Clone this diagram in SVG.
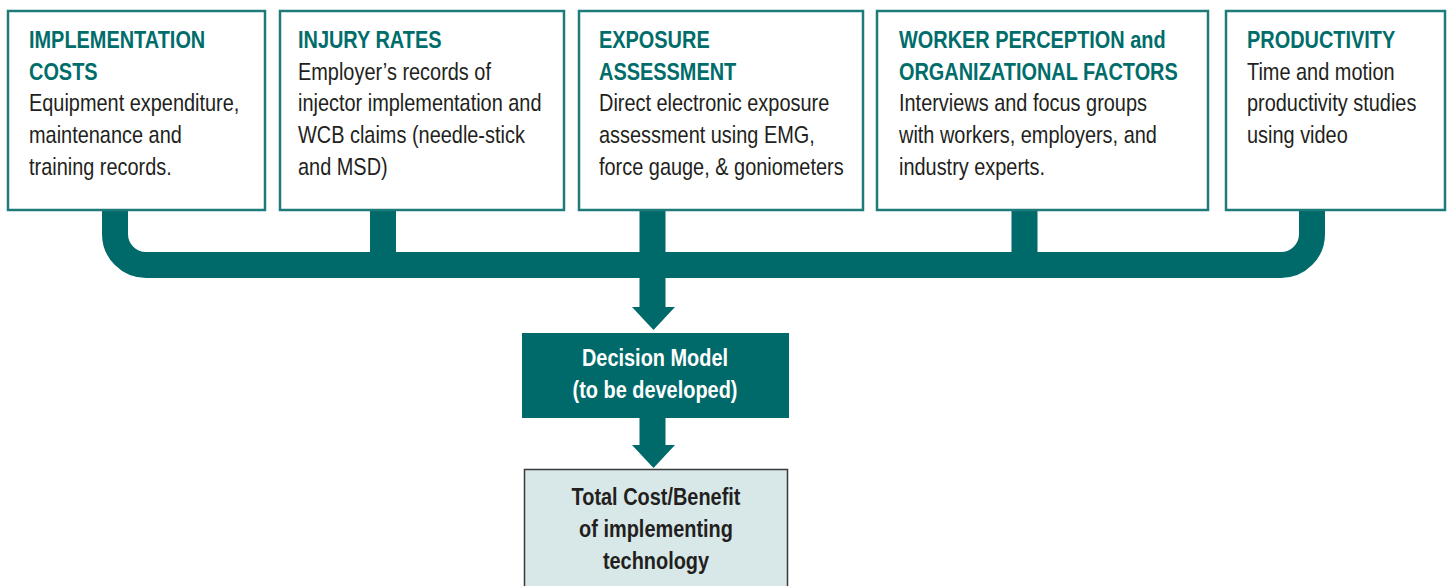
<svg xmlns="http://www.w3.org/2000/svg" width="1449" height="586" viewBox="0 0 1449 586">
  <style>
    .box { fill: #ffffff; stroke: #1f7b79; stroke-width: 2.5; }
    text { font-family: "Liberation Sans", Arial, sans-serif; font-size: 24px; }
    .title { font-weight: bold; fill: #006d6b; }
    .body { fill: #231f20; }
    .wire { fill: none; stroke: #006a6a; stroke-width: 26; stroke-linecap: butt; }
    .head { fill: #006a6a; }
    .center { font-weight: bold; text-anchor: middle; }
  </style>

  <!-- connectors: collecting bus and the two downward arrows -->
  <g id="connectors">
    <path class="wire" d="M115,211 V234 A31,31 0 0 0 146,265 H1281 A31,31 0 0 0 1312,234 V211"/>
    <path class="wire" d="M383,211 V266"/>
    <path class="wire" d="M1024.5,211 V266"/>
    <path class="wire" d="M652.5,211 V308"/>
    <polygon class="head" points="632,307 675,307 653.5,330"/>
    <path class="wire" d="M652.5,418 V446"/>
    <polygon class="head" points="632,445 675,445 653.5,468"/>
  </g>

  <!-- text is set in a horizontally condensed face (scaled 0.83) -->
  <g id="implementation-costs">
    <rect class="box" x="8" y="11" width="257" height="199"/>
    <g transform="translate(29 0) scale(0.83 1)">
      <text class="title" x="0" y="48">IMPLEMENTATION</text>
      <text class="title" x="0" y="80">COSTS</text>
      <text class="body" x="0" y="111">Equipment expenditure,</text>
      <text class="body" x="0" y="143">maintenance and</text>
      <text class="body" x="0" y="175">training records.</text>
    </g>
  </g>

  <g id="injury-rates">
    <rect class="box" x="280" y="11" width="284" height="199"/>
    <g transform="translate(298 0) scale(0.83 1)">
      <text class="title" x="0" y="48">INJURY RATES</text>
      <text class="body" x="0" y="80">Employer’s records of</text>
      <text class="body" x="0" y="111">injector implementation and</text>
      <text class="body" x="0" y="143">WCB claims (needle-stick</text>
      <text class="body" x="0" y="175">and MSD)</text>
    </g>
  </g>

  <g id="exposure-assessment">
    <rect class="box" x="579" y="11" width="284" height="199"/>
    <g transform="translate(599 0) scale(0.83 1)">
      <text class="title" x="0" y="48">EXPOSURE</text>
      <text class="title" x="0" y="80">ASSESSMENT</text>
      <text class="body" x="0" y="111">Direct electronic exposure</text>
      <text class="body" x="0" y="143">assessment using EMG,</text>
      <text class="body" x="0" y="175">force gauge, &amp; goniometers</text>
    </g>
  </g>

  <g id="worker-perception">
    <rect class="box" x="877" y="11" width="331" height="199"/>
    <g transform="translate(899 0) scale(0.83 1)">
      <text class="title" x="0" y="48">WORKER PERCEPTION and</text>
      <text class="title" x="0" y="80">ORGANIZATIONAL FACTORS</text>
      <text class="body" x="0" y="111">Interviews and focus groups</text>
      <text class="body" x="0" y="143">with workers, employers, and</text>
      <text class="body" x="0" y="175">industry experts.</text>
    </g>
  </g>

  <g id="productivity">
    <rect class="box" x="1226" y="11" width="219" height="199"/>
    <g transform="translate(1247 0) scale(0.83 1)">
      <text class="title" x="0" y="48">PRODUCTIVITY</text>
      <text class="body" x="0" y="80">Time and motion</text>
      <text class="body" x="0" y="111">productivity studies</text>
      <text class="body" x="0" y="143">using video</text>
    </g>
  </g>

  <g id="decision-model">
    <rect x="522" y="333" width="267" height="85" fill="#006a6a"/>
    <g transform="translate(655 0) scale(0.83 1)">
      <text class="center" x="0" y="366" fill="#ffffff">Decision Model</text>
      <text class="center" x="0" y="398" fill="#ffffff">(to be developed)</text>
    </g>
  </g>

  <g id="total-cost-benefit">
    <rect x="524.5" y="469.5" width="263" height="130" fill="#d8e8e8" stroke="#3a3a3a" stroke-width="1.5"/>
    <g transform="translate(656 0) scale(0.83 1)">
      <text class="center" x="0" y="505" fill="#231f20">Total Cost/Benefit</text>
      <text class="center" x="0" y="537" fill="#231f20">of implementing</text>
      <text class="center" x="0" y="569" fill="#231f20">technology</text>
    </g>
  </g>
</svg>
